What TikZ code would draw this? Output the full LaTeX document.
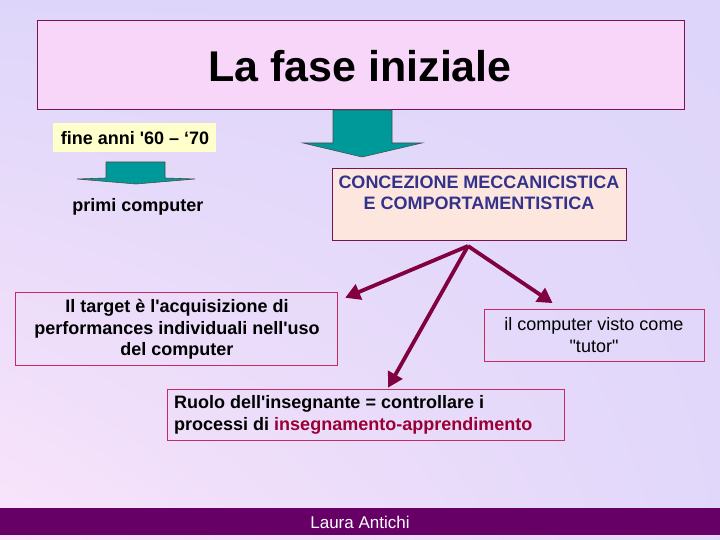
\documentclass[tikz,border=0pt]{standalone}
\usepackage{fontspec}
\setmainfont{Liberation Sans}
\usetikzlibrary{arrows.meta,shadings}
\definecolor{bglav}{RGB}{222,214,250}
\definecolor{bgpink}{RGB}{250,228,250}
\definecolor{titlefill}{RGB}{248,214,250}
\definecolor{boxborder}{RGB}{120,20,80}
\definecolor{pinkborder}{RGB}{200,40,100}
\definecolor{peach}{RGB}{252,230,222}
\definecolor{navy}{RGB}{51,51,140}
\definecolor{teal}{RGB}{0,153,153}
\definecolor{maroon}{RGB}{128,0,64}
\definecolor{redtext}{RGB}{153,0,51}
\definecolor{footer}{RGB}{102,0,102}
\definecolor{yellowbox}{RGB}{255,255,204}
\newcommand{\sq}{\textquotesingle}
\newcommand{\dq}{\textquotedbl}
\tikzset{
  conn/.style={draw=maroon, line width=3.8pt, -{Triangle[length=15pt,width=16pt]}, shorten >=-2pt},
  tealarrow/.style={fill=teal, draw=black!70, line width=0.6pt},
  framebox/.style={draw=pinkborder, line width=0.7pt, inner sep=0pt},
  txt/.style={font=\fontsize{18}{21.5}\selectfont, align=center, inner sep=0pt},
  btxt/.style={font=\bfseries\fontsize{18}{21.5}\selectfont, align=center, inner sep=0pt},
}
\begin{document}
\begin{tikzpicture}[x=1pt,y=-1pt]
\useasboundingbox (0,0) rectangle (720,540);
\shade[upper left=bglav, upper right=bglav, lower right=bglav!90!bgpink, lower left=bgpink] (0,0) rectangle (720,540);
% title
\node[draw=boxborder, fill=titlefill, line width=0.7pt, minimum width=647pt, minimum height=89pt, inner sep=0pt] (title) at (360.5,64.5) {};
\node[font=\bfseries\fontsize{43}{48}\selectfont, inner sep=0pt] (titletext) at (360,66) {La fase iniziale};
% big teal arrow
\draw[tealarrow] (333,110) -- (392,110) -- (392,143) -- (422,143) -- (362,157) -- (303,143) -- (333,143) -- cycle;
% date label
\node[fill=yellowbox, minimum width=163pt, minimum height=29pt, inner sep=0pt] (date) at (134.5,137.5) {};
\node[btxt] (datetext) at (135,138) {fine anni \sq60 – ‘70};
% small teal arrow
\draw[tealarrow] (106,162) -- (165,162) -- (165,178) -- (195,179) -- (136,184) -- (77,179) -- (106,178) -- cycle;
\node[btxt] (primi) at (138,207) {primi computer};
% concezione box
\node[draw=boxborder, fill=peach, line width=0.7pt, minimum width=294pt, minimum height=72pt, inner sep=0pt] (conc) at (479,204) {};
\node[btxt, text=navy] (conctext) at (479,193) {CONCEZIONE MECCANICISTICA\\E COMPORTAMENTISTICA};
% left box
\node[framebox, minimum width=322pt, minimum height=73pt] (left) at (176,328.5) {};
\node[btxt] (lefttext) at (177,329.5) {Il target è l\sq acquisizione di\\performances individuali nell\sq uso\\del computer};
% right box
\node[framebox, minimum width=220pt, minimum height=52pt] (right) at (594,335) {};
\node[txt] (righttext) at (594,335) {il computer visto come\\\dq tutor\dq};
% bottom box
\node[framebox, minimum width=397pt, minimum height=51pt] (bottom) at (365.5,414.5) {};
\node[btxt, align=left, anchor=west] (bottomtext) at (174,415) {Ruolo dell\sq insegnante = controllare i\\processi di \textcolor{redtext}{insegnamento-apprendimento}};
% connectors
\coordinate (o) at (468,246);
\coordinate (eL) at (347,297);
\coordinate (eD) at (389,386);
\coordinate (eR) at (551,302);
\draw[conn] (o) -- (eL);
\draw[conn] (o) -- (eD);
\draw[conn] (o) -- (eR);
% footer
\node[fill=footer, minimum width=720pt, minimum height=27pt, inner sep=0pt] (foot) at (360,521.5) {};
\node[text=white, font=\fontsize{17}{18}\selectfont, inner sep=0pt] (foottext) at (360,522) {Laura Antichi};
\end{tikzpicture}
\end{document}
